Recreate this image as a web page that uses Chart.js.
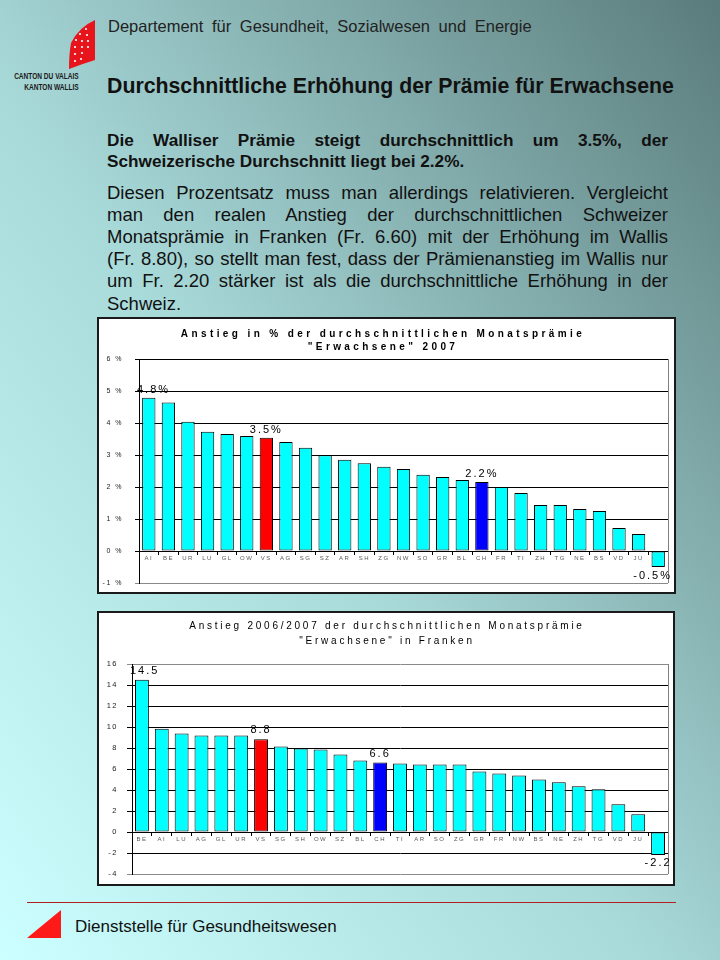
<!DOCTYPE html>
<html><head><meta charset="utf-8">
<script src="https://cdn.jsdelivr.net/npm/chart.js@4.4.1/dist/chart.umd.min.js"></script>
<style>
html,body{margin:0;padding:0;}
body{width:720px;height:960px;position:relative;overflow:hidden;font-family:Arial,"Liberation Sans",sans-serif;color:#111;
background:linear-gradient(to top right,#ccffff 0%,#a9dada 45%,#5a7b7b 100%);}
.abs{position:absolute;white-space:nowrap;}
.jl{position:absolute;left:107px;width:561px;text-align:justify;text-align-last:justify;}
.ll{position:absolute;left:107px;width:561px;text-align:left;}
.b{font-weight:bold;font-size:17.2px;line-height:21px;}
.r{font-size:18.5px;line-height:22px;}
.box{position:absolute;background:#fff;border:2px solid #1a1a1a;box-sizing:border-box;}
canvas{position:absolute;}
</style></head>
<body>
<svg class="abs" style="left:60px;top:14px" width="42" height="60" viewBox="0 0 42 60">
  <path d="M35 6 L35 46 Q22 50 9 55 Q9 40 11 29 Q19 13 35 6Z" fill="#e8141c"/>
  <g fill="#fff">
    <circle cx="26" cy="15" r="1.1"/><circle cx="20" cy="20" r="1.1"/><circle cx="27" cy="21" r="1.1"/>
    <circle cx="16" cy="26" r="1.1"/><circle cx="22" cy="27" r="1.1"/><circle cx="28" cy="27" r="1.1"/>
    <circle cx="15" cy="33" r="1.1"/><circle cx="22" cy="33" r="1.1"/><circle cx="28" cy="33" r="1.1"/>
    <circle cx="15" cy="40" r="1.1"/><circle cx="22" cy="39" r="1.1"/><circle cx="15" cy="47" r="1.1"/>
    <circle cx="21" cy="45" r="1.1"/>
  </g>
</svg>
<div class="abs" style="right:641px;top:71px;font-size:8.2px;font-weight:bold;line-height:11px;text-align:right;transform:scaleX(0.8);transform-origin:right center;color:#1a1a1a">CANTON DU VALAIS<br>KANTON WALLIS</div>
<div class="abs" style="left:108px;top:16px;font-size:16.5px;line-height:20px;word-spacing:4px;color:#222">Departement für Gesundheit, Sozialwesen und Energie</div>
<div class="abs" style="left:107px;top:74px;font-size:21.3px;line-height:24px;font-weight:bold;color:#111">Durchschnittliche Erhöhung der Prämie für Erwachsene</div>

<div class="jl b" style="top:130px">Die Walliser Prämie steigt durchschnittlich um 3.5%, der</div>
<div class="ll b" style="top:151px">Schweizerische Durchschnitt liegt bei 2.2%.</div>

<div class="jl r" style="top:182px">Diesen Prozentsatz muss man allerdings relativieren. Vergleicht</div>
<div class="jl r" style="top:204px">man den realen Anstieg der durchschnittlichen Schweizer</div>
<div class="jl r" style="top:226px">Monatsprämie in Franken (Fr. 6.60) mit der Erhöhung im Wallis</div>
<div class="jl r" style="top:248px">(Fr. 8.80), so stellt man fest, dass der Prämienanstieg im Wallis nur</div>
<div class="jl r" style="top:270px">um Fr. 2.20 stärker ist als die durchschnittliche Erhöhung in der</div>
<div class="ll r" style="top:293px">Schweiz.</div>

<div class="box" style="left:97px;top:317px;width:579px;height:277px"></div>
<canvas id="c1" width="574" height="272" style="left:100px;top:320px"></canvas>
<div class="box" style="left:97px;top:611px;width:578px;height:275px"></div>
<canvas id="c2" width="572" height="270" style="left:100px;top:614px"></canvas>

<div class="abs" style="left:27px;top:902px;width:649px;height:1px;background:#b0201e"></div>
<svg class="abs" style="left:27px;top:910px" width="35" height="29"><polygon points="34,0 34,28 0,28" fill="#ff1a1a"/></svg>
<div class="abs" style="left:75px;top:917px;font-size:17px;line-height:20px;color:#111">Dienststelle für Gesundheitswesen</div>

<script>
// ---- data ----
const cats1 = ['AI','BE','UR','LU','GL','OW','VS','AG','SG','SZ','AR','SH','ZG','NW','SO','GR','BL','CH','FR','TI','ZH','TG','NE','BS','VD','JU','GE'];
const vals1 = [4.79,4.64,4.04,3.73,3.66,3.59,3.54,3.41,3.23,2.99,2.85,2.74,2.63,2.56,2.38,2.31,2.22,2.16,2.0,1.81,1.44,1.44,1.31,1.25,0.72,0.53,-0.5];
const title1 = ['Anstieg in % der durchschnittlichen Monatsprämie', '"Erwachsene" 2007'];
const marked1 = ['AI','VS','CH','GE'];

const cats2 = ['BE','AI','LU','AG','GL','UR','VS','SG','SH','OW','SZ','BL','CH','TI','AR','SO','ZG','GR','FR','NW','BS','NE','ZH','TG','VD','JU','GE'];
const vals2 = [14.5,9.84,9.37,9.18,9.18,9.18,8.84,8.14,7.95,7.85,7.38,6.81,6.62,6.53,6.44,6.44,6.44,5.77,5.58,5.39,5.0,4.73,4.35,4.07,2.65,1.70,-2.2];
const title2 = ['Anstieg 2006/2007 der durchschnittlichen Monatsprämie', '"Erwachsene" in Franken'];
const marked2 = ['BE','VS','CH','GE'];

const highlight = {VS:'#ff0000', CH:'#0000ff'};
const baseColor = '#00ffff';

Chart.defaults.font.family = "Arial, 'Liberation Sans', sans-serif";

function deco(o){
  return {
    id:'deco',
    beforeDraw(chart){ chart.ctx.letterSpacing = o.tickSpacing; },
    afterDraw(chart){
      const c = chart.ctx, a = chart.chartArea;
      c.save();
      c.letterSpacing = '0px';
      c.strokeStyle = '#808080'; c.lineWidth = 1;
      c.beginPath(); c.moveTo(Math.round(a.right)+0.5, a.top); c.lineTo(Math.round(a.right)+0.5, a.bottom); c.stroke();
      c.fillStyle = '#000'; c.textAlign = 'center'; c.textBaseline = 'middle';
      c.font = o.titleFont; c.letterSpacing = o.titleSpacing;
      o.title.forEach((t,i)=>c.fillText(t, o.titleX, o.titleY[i]));
      c.font = o.labelFont; c.letterSpacing = o.labelSpacing;
      const meta = chart.getDatasetMeta(0);
      o.marked.forEach(cat=>{
        const i = chart.data.labels.indexOf(cat);
        const v = chart.data.datasets[0].data[i];
        const bar = meta.data[i];
        const txt = o.fmt(v);
        const w = c.measureText(txt).width;
        let x = Math.max(Math.min(bar.x, a.right + 4 - w/2), a.left + w/2 - 2);
        const y = v >= 0 ? bar.y - o.gapUp : bar.y + o.gapDown;
        c.fillText(txt, x, y);
      });
      c.restore();
      chart.ctx.letterSpacing = '0px';
    }
  };
}

function makeChart(id, cats, vals, cfg){
  return new Chart(document.getElementById(id), {
    type:'bar',
    data:{labels:cats, datasets:[{
      data:vals,
      backgroundColor:cats.map(c=>highlight[c]||baseColor),
      borderColor:'#000', borderWidth:1, borderSkipped:false,
      barPercentage:cfg.barPct, categoryPercentage:1
    }]},
    options:{
      responsive:false, animation:false,
      layout:{padding:cfg.padding},
      plugins:{legend:{display:false}, tooltip:{enabled:false}, title:{display:false}},
      scales:{
        x:{
          position:{y:0},
          grid:{offset:true, drawOnChartArea:false, drawTicks:true, tickLength:3, color:'#000'},
          border:{display:true, color:'#000', width:1},
          ticks:{autoSkip:false, maxRotation:0, minRotation:0, padding:1, color:'#5a5a5a', font:{size:6}},
          afterFit(s){ s.height = 0; s.paddingLeft = 0; s.paddingRight = 0; }
        },
        y:{
          min:cfg.min, max:cfg.max,
          ticks:{stepSize:cfg.step, padding:cfg.tickPad, color:'#1a1a1a', font:{size:cfg.tickSize}, callback:cfg.tickFmt},
          grid:{tickLength:cfg.tickLen, color:(ctx)=> (ctx.tick && (ctx.tick.value===cfg.min || (cfg.grayTop && ctx.tick.value===cfg.max))) ? '#8a8a8a' : '#000'},
          border:{display:true, color:'#000', width:1},
          afterFit(s){ s.width = cfg.axisW; s.paddingTop = 0; s.paddingBottom = 0; }
        }
      }
    },
    plugins:[deco(cfg.deco)]
  });
}

makeChart('c1', cats1, vals1, {
  barPct:0.68, padding:{left:0, top:39, right:6, bottom:9},
  min:-1, max:6, step:1, tickPad:12, tickSize:7, tickLen:4, axisW:39, grayTop:false,
  tickFmt:v=>v+' %',
  deco:{tickSpacing:'1.5px', title:title1, titleFont:"bold 10px Arial, 'Liberation Sans', sans-serif", titleSpacing:'3.4px',
        titleX:283, titleY:[14,27], marked:marked1, labelFont:"11px Arial, 'Liberation Sans', sans-serif", labelSpacing:'2px',
        fmt:v=>v.toFixed(1)+'%', gapUp:8, gapDown:9}
});

makeChart('c2', cats2, vals2, {
  barPct:0.70, padding:{left:0, top:50, right:4, bottom:10},
  min:-4, max:16, step:2, tickPad:9, tickSize:7.5, tickLen:5, axisW:32, grayTop:true,
  tickFmt:v=>v,
  deco:{tickSpacing:'1.5px', title:title2, titleFont:"10px Arial, 'Liberation Sans', sans-serif", titleSpacing:'2.75px',
        titleX:287, titleY:[12,27], marked:marked2, labelFont:"11px Arial, 'Liberation Sans', sans-serif", labelSpacing:'2px',
        fmt:v=>v.toFixed(1), gapUp:9, gapDown:8}
});
</script>
</body></html>
